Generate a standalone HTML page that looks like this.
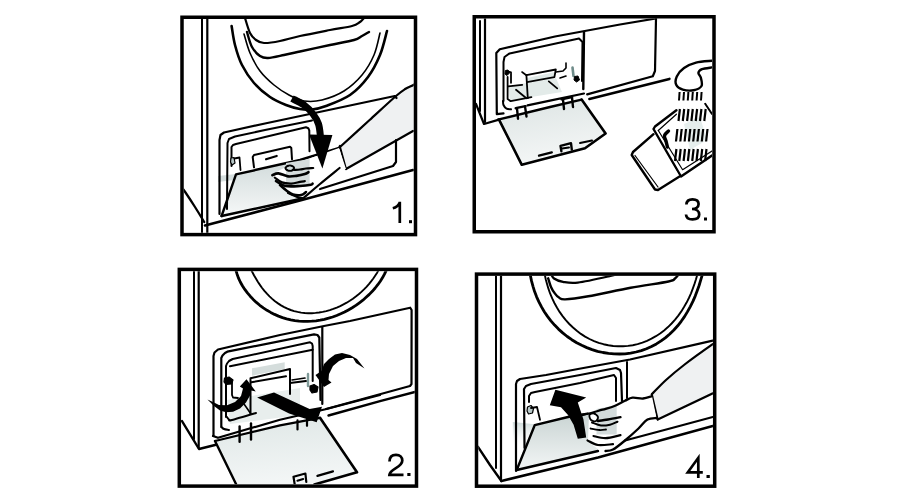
<!DOCTYPE html>
<html><head><meta charset="utf-8">
<style>
html,body{margin:0;padding:0;background:#fff;width:900px;height:500px;overflow:hidden}
svg{display:block}
text{font-family:"Liberation Sans",sans-serif}
</style></head>
<body>
<svg width="900" height="500" viewBox="0 0 900 500">
<defs>
<clipPath id="c1"><rect x="183.75" y="19" width="230" height="213.85"/></clipPath>
<clipPath id="c2"><rect x="181.05" y="271.15" width="233.7" height="213.2"/></clipPath>
<clipPath id="c3"><rect x="476" y="18.5" width="236" height="211.5"/></clipPath>
<clipPath id="c4"><rect x="478.25" y="275.85" width="234.7" height="208.6"/></clipPath>
<linearGradient id="g1" x1="0" y1="0" x2="0" y2="1">
<stop offset="0" stop-color="#cfd9d9"/><stop offset="1" stop-color="#f6f8f8"/></linearGradient>
<linearGradient id="g5" x1="0" y1="0" x2="0" y2="1"><stop offset="0" stop-color="#cfdbda"/><stop offset="1" stop-color="#ffffff" stop-opacity="0"/></linearGradient>
<linearGradient id="g4" x1="0" y1="0" x2="0" y2="1"><stop offset="0" stop-color="#c7d2d1"/><stop offset="1" stop-color="#f3f6f6"/></linearGradient>
<linearGradient id="g2" x1="0" y1="0" x2="0.2" y2="1"><stop offset="0" stop-color="#dfe7e6"/><stop offset="1" stop-color="#f3f6f6"/></linearGradient>
<linearGradient id="g3" x1="0" y1="0" x2="0.3" y2="1"><stop offset="0" stop-color="#dce4e3"/><stop offset="1" stop-color="#f4f6f6"/></linearGradient>
</defs>
<g clip-path="url(#c1)">
<path d="M418.0,80.0 L405.6,88.8 L396.0,96.0 L369.6,120.0 L340.0,146.0 L346.0,169.0 L418.0,127.0 Z" fill="#eff1f2" />
<path d="M236.0,174.4 L300.0,160.0 L310.0,157.6 L322.0,188.0 L300.0,199.0 L221.6,216.0 Z" fill="url(#g1)" />
<path d="M218.0,176.0 L236.0,174.0 L234.0,180.0 L218.0,182.0 Z" fill="#d5dede" />
<path d="M294.0,162.0 L309.0,161.0 L309.0,186.0 L294.0,187.0 Z" fill="#d3dada" />
<path d="M202.0,17.0 L202.0,235.0" fill="none" stroke="#000" stroke-width="2" stroke-linecap="round" stroke-linejoin="round" />
<path d="M207.3,17.0 L207.3,235.0" fill="none" stroke="#000" stroke-width="2.2" stroke-linecap="round" stroke-linejoin="round" />
<path d="M182.5,188.5 C183.0,189.2 183.4,189.4 185.5,192.5 C187.6,195.6 191.9,202.1 195.0,207.0 C198.1,211.9 202.7,219.5 204.2,222.0" fill="none" stroke="#000" stroke-width="2.3" stroke-linecap="round" stroke-linejoin="round" />
<path d="M205.0,225.5 L300.0,200.5 L413.0,170.0" fill="none" stroke="#000" stroke-width="2.6" stroke-linecap="round" stroke-linejoin="round" />
<path d="M245.0,18.0 C245.8,20.5 248.2,29.3 250.0,33.0 C251.8,36.7 253.7,38.3 256.0,40.0 C258.3,41.7 260.0,42.8 264.0,43.0 C268.0,43.2 274.0,42.2 280.0,41.0 C286.0,39.8 291.7,37.8 300.0,36.0 C308.3,34.2 321.3,31.7 330.0,30.0 C338.7,28.3 347.0,27.3 352.0,26.0 C357.0,24.7 358.0,23.3 360.0,22.0 C362.0,20.7 363.3,18.7 364.0,18.0" fill="none" stroke="#000" stroke-width="2.2" stroke-linecap="round" stroke-linejoin="round" />
<path d="M247.0,32.0 C247.8,34.5 249.8,43.0 252.0,47.0 C254.2,51.0 257.3,54.2 260.0,56.0 C262.7,57.8 264.0,58.2 268.0,58.0 C272.0,57.8 278.7,56.1 284.0,55.0 C289.3,53.9 292.3,53.2 300.0,51.5 C307.7,49.8 321.0,46.9 330.0,45.0 C339.0,43.1 348.7,41.5 354.0,40.0 C359.3,38.5 359.5,37.3 362.0,36.0 C364.5,34.7 367.8,32.7 369.0,32.0" fill="none" stroke="#000" stroke-width="2.4" stroke-linecap="round" stroke-linejoin="round" />
<path d="M231.6,26.0 C232.2,29.2 233.3,38.5 235.0,45.0 C236.7,51.5 238.8,58.7 242.0,65.0 C245.2,71.3 249.3,77.7 254.0,83.0 C258.7,88.3 264.7,93.3 270.0,97.0 C275.3,100.7 281.0,103.0 286.0,105.0 C291.0,107.0 295.7,108.2 300.0,109.0 C304.3,109.8 307.7,110.0 312.0,109.5 C316.3,109.0 319.7,108.4 326.0,106.0 C332.3,103.6 343.0,99.8 350.0,95.0 C357.0,90.2 363.0,83.7 368.0,77.0 C373.0,70.3 376.8,62.7 380.0,55.0 C383.2,47.3 385.8,35.0 387.0,31.0" fill="none" stroke="#000" stroke-width="2.6" stroke-linecap="round" stroke-linejoin="round" />
<path d="M244.0,34.0 C245.0,37.2 247.3,46.8 250.0,53.0 C252.7,59.2 256.0,65.7 260.0,71.0 C264.0,76.3 269.2,81.0 274.0,85.0 C278.8,89.0 284.0,92.3 289.0,95.0 C294.0,97.7 298.5,100.2 304.0,101.0 C309.5,101.8 315.3,101.7 322.0,100.0 C328.7,98.3 337.3,95.2 344.0,91.0 C350.7,86.8 357.0,81.0 362.0,75.0 C367.0,69.0 371.0,62.0 374.0,55.0 C377.0,48.0 379.0,36.7 380.0,33.0" fill="none" stroke="#000" stroke-width="1.6" stroke-linecap="round" stroke-linejoin="round" />
<path d="M219.5,214.0 L219.5,140.0 L220.5,135.0 L224.0,132.5 L265.0,123.5 L394.8,96.0 L396.5,98.0" fill="none" stroke="#000" stroke-width="2.2" stroke-linecap="round" stroke-linejoin="round" />
<path d="M227.0,209.0 L227.5,143.0 L229.0,139.0 L235.0,136.5 L265.0,130.0 L312.0,120.5" fill="none" stroke="#000" stroke-width="2" stroke-linecap="round" stroke-linejoin="round" />
<path d="M231.5,166.0 L231.5,147.0 L233.0,145.0 L236.0,144.0 L265.0,137.0 L306.0,127.3 L308.3,128.2 L309.3,130.5 L309.5,151.3" fill="none" stroke="#000" stroke-width="2" stroke-linecap="round" stroke-linejoin="round" />
<path d="M396.0,140.0 L396.0,162.0 L393.0,166.0 L320.0,189.0" fill="none" stroke="#000" stroke-width="2.2" stroke-linecap="round" stroke-linejoin="round" />
<path d="M254.0,167.3 L252.7,157.0 L254.0,155.0 L290.0,146.7 L291.3,148.0 L292.0,159.3" fill="none" stroke="#000" stroke-width="2" stroke-linecap="round" stroke-linejoin="round" />
<path d="M266.0,159.3 L276.7,156.0" fill="none" stroke="#000" stroke-width="2.2" stroke-linecap="round" stroke-linejoin="round" />
<path d="M231.0,158.0 L234.0,157.5 L235.0,163.0 L232.0,165.0 L230.5,162.0 Z" fill="#b8c8c8" stroke="#000" stroke-width="1.2" stroke-linejoin="round" />
<path d="M234.5,158.5 L239.5,157.5 L240.5,170.0" fill="none" stroke="#000" stroke-width="1.8" stroke-linecap="round" stroke-linejoin="round" />
<path d="M221.6,216.0 L236.0,174.4 L300.0,160.0 L318.0,154.4 L339.0,148.0 L340.0,146.0" fill="none" stroke="#000" stroke-width="2.4" stroke-linecap="round" stroke-linejoin="round" />
<path d="M221.6,216.0 L300.0,199.0" fill="none" stroke="#000" stroke-width="2.6" stroke-linecap="round" stroke-linejoin="round" />
<path d="M418.0,80.0 C417.3,80.8 416.1,83.1 414.0,84.6 C411.9,86.1 408.6,86.9 405.6,88.8 C402.6,90.7 402.0,90.8 396.0,96.0 C390.0,101.2 378.9,111.5 369.6,120.0 C360.3,128.5 344.9,142.5 340.0,147.0" fill="none" stroke="#000" stroke-width="2.2" stroke-linecap="round" stroke-linejoin="round" />
<path d="M340.0,147.0 L346.0,169.0" fill="none" stroke="#000" stroke-width="2" stroke-linecap="round" stroke-linejoin="round" />
<path d="M346.0,169.0 L413.0,131.0" fill="none" stroke="#000" stroke-width="2.2" stroke-linecap="round" stroke-linejoin="round" />
<path d="M272.0,175.0 L280.0,170.0 L290.0,165.0 L300.0,162.0 L318.0,155.4 L339.0,148.0 L346.0,169.0 L338.0,171.0 L318.0,189.6 L301.0,197.0 L288.0,192.0 L278.0,183.0 Z" fill="#fff" />
<path d="M286.0,163.0 L309.6,159.0 L309.6,186.0 L286.0,187.0 Z" fill="#d5dcdc" />
<path d="M303.6,198.0 C306.3,195.7 314.0,189.0 320.0,184.0 C326.0,179.0 336.3,170.7 339.6,168.0" fill="none" stroke="#000" stroke-width="2.2" stroke-linecap="round" stroke-linejoin="round" />
<path d="M272.4,175.2 C273.4,174.9 275.8,173.2 278.4,173.4 C281.0,173.6 285.0,176.0 288.0,176.4 C291.0,176.8 293.6,176.2 296.4,175.8 C299.2,175.4 302.8,174.6 304.8,174.0 C306.8,173.4 307.8,172.5 308.4,172.2" fill="none" stroke="#000" stroke-width="2.7" stroke-linecap="round" stroke-linejoin="round" />
<path d="M274.8,177.6 C276.0,178.4 279.2,181.4 282.0,182.4 C284.8,183.4 288.6,183.7 291.6,183.6 C294.6,183.5 297.8,182.2 300.0,181.8 C302.2,181.4 304.0,181.3 304.8,181.2" fill="none" stroke="#000" stroke-width="2.2" stroke-linecap="round" stroke-linejoin="round" />
<path d="M276.0,181.2 C277.6,182.0 281.6,185.2 285.6,186.0 C289.6,186.8 295.8,186.2 300.0,186.0 C304.2,185.8 308.7,185.2 310.8,184.8 C312.9,184.4 312.3,183.8 312.6,183.6" fill="none" stroke="#000" stroke-width="2.6" stroke-linecap="round" stroke-linejoin="round" />
<path d="M280.0,185.0 C281.2,186.0 284.8,189.4 287.0,191.0 C289.2,192.6 290.6,193.8 293.0,194.5 C295.4,195.2 299.0,195.4 301.2,195.0 C303.4,194.6 305.2,192.5 306.0,192.0" fill="none" stroke="#000" stroke-width="2.6" stroke-linecap="round" stroke-linejoin="round" />
<path d="M288.0,193.0 C289.8,193.8 296.3,196.7 298.8,197.5 C301.3,198.3 302.3,197.9 303.0,198.0" fill="none" stroke="#000" stroke-width="2.2" stroke-linecap="round" stroke-linejoin="round" />
<path d="M285.6,167.5 C286.1,166.8 288.6,165.5 290.0,165.5 C291.4,165.5 293.7,166.7 294.0,167.5 C294.3,168.3 293.2,170.1 292.0,170.5 C290.8,170.9 288.1,170.5 287.0,170.0 C285.9,169.5 285.1,168.2 285.6,167.5 Z" fill="none" stroke="#000" stroke-width="2" stroke-linecap="round" stroke-linejoin="round" />
<path d="M287.5,167.5 L290.0,166.5 L292.5,168.0 L291.0,169.5 L288.0,169.5 Z" fill="#cfdada" />
<path d="M294.0,170.0 C295.0,169.9 298.0,169.8 300.0,169.5 C302.0,169.2 303.8,168.8 306.0,168.5 C308.2,168.2 312.0,168.1 313.2,168.0" fill="none" stroke="#000" stroke-width="2.2" stroke-linecap="round" stroke-linejoin="round" />
<path d="M292.0,98.5 C294.0,99.6 300.5,102.4 304.0,105.0 C307.5,107.6 310.6,110.8 313.0,114.0 C315.4,117.2 317.2,120.2 318.5,124.0 C319.8,127.8 320.2,134.8 320.5,137.0" fill="none" stroke="#000" stroke-width="7" stroke-linecap="butt" stroke-linejoin="round" />
<path d="M309.0,134.4 L332.4,135.0 L322.4,168.4 Z" fill="#000" />
</g>
<g clip-path="url(#c3)">
<path d="M508.0,86.0 L556.0,78.0 L562.0,92.0 L510.0,100.5 Z" fill="#e3ebe9" />
<path d="M527.0,78.0 L555.0,72.0 L555.0,77.0 L527.0,83.0 Z" fill="#dfe8e6" />
<path d="M499.0,119.6 L540.0,109.0 L581.6,99.6 L605.6,133.5 L585.0,148.2 L521.8,164.8 Z" fill="url(#g3)" />
<path d="M480.0,21.0 L480.0,111.0" fill="none" stroke="#000" stroke-width="2" stroke-linecap="round" stroke-linejoin="round" />
<path d="M485.0,18.0 L485.0,122.0" fill="none" stroke="#000" stroke-width="2.2" stroke-linecap="round" stroke-linejoin="round" />
<path d="M476.0,104.0 L484.0,124.0 L499.0,119.6" fill="none" stroke="#000" stroke-width="2.2" stroke-linecap="round" stroke-linejoin="round" />
<path d="M503.5,113.3 L496.8,114.2 L496.3,53.0 L499.8,49.2 L555.0,36.5 L620.0,24.5 L656.0,18.5" fill="none" stroke="#000" stroke-width="2.2" stroke-linecap="round" stroke-linejoin="round" />
<path d="M503.5,101.0 L503.5,62.0 L504.5,57.0 L509.6,53.4 L579.0,38.5 L582.5,42.0 L582.0,81.0" fill="none" stroke="#000" stroke-width="2" stroke-linecap="round" stroke-linejoin="round" />
<path d="M503.0,101.0 C503.1,101.7 502.9,103.7 503.5,105.0 C504.1,106.3 505.2,107.9 506.5,108.6 C507.8,109.3 510.2,109.2 511.0,109.3" fill="none" stroke="#000" stroke-width="2" stroke-linecap="round" stroke-linejoin="round" />
<path d="M584.0,32.0 L583.3,89.0" fill="none" stroke="#000" stroke-width="2.4" stroke-linecap="round" stroke-linejoin="round" />
<path d="M656.0,18.5 L655.0,71.0 L652.8,76.2 L587.2,94.4" fill="none" stroke="#000" stroke-width="2.2" stroke-linecap="round" stroke-linejoin="round" />
<path d="M589.4,98.9 L669.4,78.9" fill="none" stroke="#000" stroke-width="2.6" stroke-linecap="round" stroke-linejoin="round" />
<path d="M505.4,70.5 L508.0,70.0 L509.5,73.0 L507.0,75.5 L505.0,74.0 Z" fill="#000" stroke="#000" stroke-width="1" stroke-linejoin="round" />
<path d="M507.0,71.0 L511.0,72.3 L511.0,82.8" fill="none" stroke="#000" stroke-width="1.8" stroke-linecap="round" stroke-linejoin="round" />
<path d="M572.5,67.5 L573.5,76.0" fill="none" stroke="#6f8c8a" stroke-width="2.6" stroke-linecap="round" stroke-linejoin="round" />
<path d="M574.5,76.5 L578.0,76.0 L579.5,80.0 L576.5,82.0 L574.0,80.0 Z" fill="#000" stroke="#000" stroke-width="1" stroke-linejoin="round" />
<path d="M526.4,75.1 L555.8,69.5 L554.4,77.2 L527.0,82.1" fill="none" stroke="#000" stroke-width="1.8" stroke-linecap="round" stroke-linejoin="round" />
<path d="M526.4,75.1 L527.8,98.2" fill="none" stroke="#000" stroke-width="1.8" stroke-linecap="round" stroke-linejoin="round" />
<path d="M516.0,89.8 L526.4,98.2" fill="none" stroke="#000" stroke-width="1.8" stroke-linecap="round" stroke-linejoin="round" />
<path d="M548.8,81.4 L557.2,88.4" fill="none" stroke="#000" stroke-width="1.8" stroke-linecap="round" stroke-linejoin="round" />
<path d="M508.2,86.3 L522.2,84.9" fill="none" stroke="#000" stroke-width="1.8" stroke-linecap="round" stroke-linejoin="round" />
<path d="M522.0,72.0 L526.0,75.0" fill="none" stroke="#000" stroke-width="1.6" stroke-linecap="round" stroke-linejoin="round" />
<path d="M507.6,77.0 L507.6,99.0 L510.7,101.2 L531.4,97.1" fill="none" stroke="#000" stroke-width="1.8" stroke-linecap="round" stroke-linejoin="round" />
<path d="M556.0,72.0 L563.0,71.0 L566.0,68.0 L566.0,63.0" fill="none" stroke="#000" stroke-width="1.6" stroke-linecap="round" stroke-linejoin="round" />
<path d="M560.0,78.0 L566.0,76.0" fill="none" stroke="#000" stroke-width="1.6" stroke-linecap="round" stroke-linejoin="round" />
<path d="M527.5,105.4 L550.0,100.7 L584.0,93.5" fill="none" stroke="#000" stroke-width="2.2" stroke-linecap="round" stroke-linejoin="round" />
<path d="M498.0,119.6 L550.0,107.0 L581.6,99.6" fill="none" stroke="#000" stroke-width="2.4" stroke-linecap="round" stroke-linejoin="round" />
<path d="M515.7,108.2 L525.5,106.1" fill="none" stroke="#000" stroke-width="2.4" stroke-linecap="round" stroke-linejoin="round" />
<path d="M517.0,108.5 L518.0,118.7" fill="none" stroke="#000" stroke-width="2.4" stroke-linecap="round" stroke-linejoin="round" />
<path d="M525.0,106.4 L526.5,116.5" fill="none" stroke="#000" stroke-width="2.4" stroke-linecap="round" stroke-linejoin="round" />
<path d="M561.5,99.3 L572.0,97.0" fill="none" stroke="#000" stroke-width="2.4" stroke-linecap="round" stroke-linejoin="round" />
<path d="M563.0,99.5 L564.0,109.0" fill="none" stroke="#000" stroke-width="2.4" stroke-linecap="round" stroke-linejoin="round" />
<path d="M572.0,97.3 L573.0,107.0" fill="none" stroke="#000" stroke-width="2.4" stroke-linecap="round" stroke-linejoin="round" />
<path d="M499.0,119.6 L521.8,164.8 L585.0,148.2 L605.6,133.5 L581.6,99.6" fill="none" stroke="#000" stroke-width="2.6" stroke-linecap="round" stroke-linejoin="round" />
<path d="M539.0,155.6 L551.8,152.4" fill="none" stroke="#000" stroke-width="2.3" stroke-linecap="round" stroke-linejoin="round" />
<path d="M561.4,151.2 L560.5,145.8 L571.0,143.2 L571.8,149.6" fill="none" stroke="#000" stroke-width="2.4" stroke-linecap="round" stroke-linejoin="round" />
<path d="M562.0,148.5 L569.0,147.5" fill="none" stroke="#000" stroke-width="2" stroke-linecap="round" stroke-linejoin="round" />
<path d="M580.0,143.0 L592.0,140.5" fill="none" stroke="#000" stroke-width="2" stroke-linecap="round" stroke-linejoin="round" />
<path d="M712.0,60.8 C709.3,61.1 700.7,61.4 696.0,62.6 C691.3,63.8 687.2,65.7 684.0,68.0 C680.8,70.3 678.1,73.6 676.8,76.4 C675.5,79.2 675.2,82.6 676.2,84.8 C677.2,87.0 679.9,88.7 682.8,89.6 C685.7,90.5 690.5,90.8 693.6,90.2 C696.7,89.6 700.3,88.1 701.5,86.0 C702.7,83.9 701.3,79.8 700.8,77.6 C700.3,75.4 698.2,74.2 698.4,72.8 C698.6,71.4 699.7,70.1 702.0,69.2 C704.3,68.3 710.3,67.7 712.0,67.4" fill="none" stroke="#000" stroke-width="2.4" stroke-linecap="round" stroke-linejoin="round" />
<path d="M684.0,124.0 L700.0,117.0 L707.0,140.0 L690.0,150.0 Z" fill="#e6eeed" />
<path d="M679.6,92.0 L679.0,100.5" fill="none" stroke="#000" stroke-width="2" stroke-linecap="butt" stroke-linejoin="round" />
<path d="M684.0,92.0 L683.4,100.5" fill="none" stroke="#000" stroke-width="2" stroke-linecap="butt" stroke-linejoin="round" />
<path d="M688.4,92.0 L687.8,100.5" fill="none" stroke="#000" stroke-width="2" stroke-linecap="butt" stroke-linejoin="round" />
<path d="M692.8,92.0 L692.2,100.5" fill="none" stroke="#000" stroke-width="2" stroke-linecap="butt" stroke-linejoin="round" />
<path d="M697.2,92.0 L696.6,100.5" fill="none" stroke="#000" stroke-width="2" stroke-linecap="butt" stroke-linejoin="round" />
<path d="M701.6,92.0 L701.0,100.5" fill="none" stroke="#000" stroke-width="2" stroke-linecap="butt" stroke-linejoin="round" />
<path d="M679.9,109.0 L678.5,121.0" fill="none" stroke="#000" stroke-width="2.2" stroke-linecap="butt" stroke-linejoin="round" />
<path d="M684.2,109.0 L682.8,121.0" fill="none" stroke="#000" stroke-width="2.2" stroke-linecap="butt" stroke-linejoin="round" />
<path d="M688.5,109.0 L687.1,121.0" fill="none" stroke="#000" stroke-width="2.2" stroke-linecap="butt" stroke-linejoin="round" />
<path d="M692.8,109.0 L691.4,121.0" fill="none" stroke="#000" stroke-width="2.2" stroke-linecap="butt" stroke-linejoin="round" />
<path d="M697.1,109.0 L695.7,121.0" fill="none" stroke="#000" stroke-width="2.2" stroke-linecap="butt" stroke-linejoin="round" />
<path d="M701.4,109.0 L700.0,121.0" fill="none" stroke="#000" stroke-width="2.2" stroke-linecap="butt" stroke-linejoin="round" />
<path d="M705.7,109.0 L704.3,121.0" fill="none" stroke="#000" stroke-width="2.2" stroke-linecap="butt" stroke-linejoin="round" />
<path d="M677.4,129.0 L676.0,141.5" fill="none" stroke="#000" stroke-width="2.2" stroke-linecap="butt" stroke-linejoin="round" />
<path d="M681.7,129.0 L680.3,141.5" fill="none" stroke="#000" stroke-width="2.2" stroke-linecap="butt" stroke-linejoin="round" />
<path d="M686.0,129.0 L684.6,141.5" fill="none" stroke="#000" stroke-width="2.2" stroke-linecap="butt" stroke-linejoin="round" />
<path d="M690.3,129.0 L688.9,141.5" fill="none" stroke="#000" stroke-width="2.2" stroke-linecap="butt" stroke-linejoin="round" />
<path d="M694.6,129.0 L693.2,141.5" fill="none" stroke="#000" stroke-width="2.2" stroke-linecap="butt" stroke-linejoin="round" />
<path d="M698.9,129.0 L697.5,141.5" fill="none" stroke="#000" stroke-width="2.2" stroke-linecap="butt" stroke-linejoin="round" />
<path d="M703.2,129.0 L701.8,141.5" fill="none" stroke="#000" stroke-width="2.2" stroke-linecap="butt" stroke-linejoin="round" />
<path d="M707.5,129.0 L706.1,141.5" fill="none" stroke="#000" stroke-width="2.2" stroke-linecap="butt" stroke-linejoin="round" />
<path d="M676.4,149.0 L675.0,161.0" fill="none" stroke="#000" stroke-width="2.2" stroke-linecap="butt" stroke-linejoin="round" />
<path d="M680.7,149.0 L679.3,161.0" fill="none" stroke="#000" stroke-width="2.2" stroke-linecap="butt" stroke-linejoin="round" />
<path d="M685.0,149.0 L683.6,161.0" fill="none" stroke="#000" stroke-width="2.2" stroke-linecap="butt" stroke-linejoin="round" />
<path d="M689.3,149.0 L687.9,161.0" fill="none" stroke="#000" stroke-width="2.2" stroke-linecap="butt" stroke-linejoin="round" />
<path d="M693.6,149.0 L692.2,161.0" fill="none" stroke="#000" stroke-width="2.2" stroke-linecap="butt" stroke-linejoin="round" />
<path d="M697.9,149.0 L696.5,161.0" fill="none" stroke="#000" stroke-width="2.2" stroke-linecap="butt" stroke-linejoin="round" />
<path d="M702.2,149.0 L700.8,161.0" fill="none" stroke="#000" stroke-width="2.2" stroke-linecap="butt" stroke-linejoin="round" />
<path d="M706.5,149.0 L705.1,161.0" fill="none" stroke="#000" stroke-width="2.2" stroke-linecap="butt" stroke-linejoin="round" />
<path d="M676.4,110.2 L655.0,126.5 L653.5,129.0 L681.0,176.5 L720.0,150.0" fill="none" stroke="#000" stroke-width="2.4" stroke-linecap="round" stroke-linejoin="round" />
<path d="M705.2,103.8 L712.0,114.0" fill="none" stroke="#000" stroke-width="2" stroke-linecap="round" stroke-linejoin="round" />
<path d="M658.3,130.5 L676.4,114.2" fill="none" stroke="#000" stroke-width="1.2" stroke-linecap="round" stroke-linejoin="round" />
<path d="M658.3,130.5 L682.6,169.7 L712.0,151.0" fill="none" stroke="#000" stroke-width="1.2" stroke-linecap="round" stroke-linejoin="round" />
<path d="M631.7,153.0 L653.5,134.2 L679.5,176.5 L656.5,190.5 Z" fill="#fff" />
<path d="M653.5,134.2 L633.0,152.0 L631.7,155.0 L655.0,189.5 L658.0,190.0 L679.5,176.5" fill="none" stroke="#000" stroke-width="2.4" stroke-linecap="round" stroke-linejoin="round" />
<path d="M635.0,155.5 L658.0,187.0" fill="none" stroke="#000" stroke-width="1.2" stroke-linecap="round" stroke-linejoin="round" />
<path d="M668.5,131.0 C667.8,131.8 664.9,133.8 664.5,135.5 C664.1,137.2 665.5,139.1 666.0,141.0 C666.5,142.9 667.2,146.0 667.5,147.0" fill="none" stroke="#000" stroke-width="3.4" stroke-linecap="round" stroke-linejoin="round" />
</g>
<g clip-path="url(#c2)">
<path d="M215.0,441.0 L280.0,425.4 L320.0,417.8 L357.0,472.0 L316.0,482.5 L300.0,486.0 L236.0,486.0 Z" fill="url(#g2)" />
<path d="M252.0,368.3 L284.7,362.3 L284.7,369.0 L252.0,375.7 Z" fill="#d5dddc" />
<path d="M227.0,400.0 L300.0,388.0 L300.0,415.0 L230.0,424.0 Z" fill="#e8eeed" />
<path d="M194.0,271.0 L194.0,439.0" fill="none" stroke="#000" stroke-width="2" stroke-linecap="round" stroke-linejoin="round" />
<path d="M198.7,271.0 L198.7,448.0" fill="none" stroke="#000" stroke-width="2.2" stroke-linecap="round" stroke-linejoin="round" />
<path d="M182.0,421.0 L199.0,449.0 L215.0,445.0" fill="none" stroke="#000" stroke-width="2.4" stroke-linecap="round" stroke-linejoin="round" />
<path d="M235.2,266.2 L235.9,270.2 L237.1,274.2 L238.5,278.1 L240.3,282.0 L242.4,285.7 L244.8,289.4 L247.4,292.9 L250.2,296.2 L253.2,299.4 L256.4,302.4 L259.8,305.3 L263.3,307.9 L267.0,310.3 L270.7,312.4 L274.6,314.4 L278.5,316.1 L282.5,317.6 L286.6,318.8 L290.8,319.8 L294.9,320.6 L299.1,321.1 L303.4,321.4 L307.6,321.4 L311.8,321.2 L316.0,320.8 L320.2,320.2 L324.4,319.3 L328.6,318.2 L332.6,317.0 L336.7,315.5 L340.7,313.8 L344.6,312.0 L348.4,309.9 L352.2,307.7 L355.9,305.4 L359.4,302.8 L362.9,300.2 L366.1,297.3 L369.3,294.4 L372.3,291.3 L375.2,288.0 L377.8,284.7 L380.3,281.2 L382.6,277.6 L384.6,273.9 L386.4,270.0 L387.9,266.1" fill="none" stroke="#000" stroke-width="2.8" stroke-linecap="round" stroke-linejoin="round" />
<path d="M249.3,266.3 L250.8,269.3 L252.4,272.3 L254.1,275.5 L255.9,278.6 L257.8,281.8 L259.9,284.9 L262.1,288.0 L264.4,290.9 L266.9,293.7 L269.5,296.4 L272.2,298.9 L275.0,301.3 L278.0,303.4 L281.0,305.4 L284.2,307.1 L287.4,308.7 L290.7,310.0 L294.1,311.1 L297.6,311.9 L301.1,312.6 L304.7,313.0 L308.2,313.2 L311.9,313.2 L315.5,312.9 L319.1,312.5 L322.7,311.9 L326.3,311.1 L329.8,310.1 L333.3,308.9 L336.8,307.6 L340.2,306.1 L343.5,304.4 L346.7,302.7 L349.8,300.8 L352.9,298.7 L355.8,296.6 L358.7,294.3 L361.4,291.9 L364.0,289.4 L366.5,286.8 L368.9,284.1 L371.1,281.4 L373.3,278.5 L375.3,275.5 L377.3,272.4 L379.1,269.2 L380.8,265.8" fill="none" stroke="#000" stroke-width="1.9" stroke-linecap="round" stroke-linejoin="round" />
<path d="M213.5,436.0 L213.5,356.0 L214.5,352.5 L218.0,349.5 L280.0,335.0 L324.0,326.0 L350.0,321.0 L410.2,307.7 L411.6,310.0 L411.5,384.0 L410.0,386.0 L326.0,409.0" fill="none" stroke="#000" stroke-width="2.2" stroke-linecap="round" stroke-linejoin="round" />
<path d="M322.3,327.0 L322.3,404.0" fill="none" stroke="#000" stroke-width="2.2" stroke-linecap="round" stroke-linejoin="round" />
<path d="M221.3,427.0 L221.3,358.0 L222.5,355.5 L225.0,353.0 L227.3,351.7 L314.0,334.3 L317.5,335.0 L319.3,337.5 L320.5,400.0" fill="none" stroke="#000" stroke-width="2.2" stroke-linecap="round" stroke-linejoin="round" />
<path d="M221.5,427.0 C221.9,427.3 222.8,428.5 224.0,429.0 C225.2,429.5 228.2,429.8 229.0,430.0" fill="none" stroke="#000" stroke-width="2" stroke-linecap="round" stroke-linejoin="round" />
<path d="M226.0,417.0 L226.0,366.0 L227.0,363.5 L229.0,361.0 L232.7,359.0 L310.0,342.3 L312.0,343.5 L312.7,346.0 L312.7,381.0" fill="none" stroke="#000" stroke-width="2" stroke-linecap="round" stroke-linejoin="round" />
<path d="M230.0,366.3 L312.7,349.7" fill="none" stroke="#000" stroke-width="2" stroke-linecap="round" stroke-linejoin="round" />
<path d="M227.0,417.0 C227.3,417.4 228.2,419.0 229.0,419.5 C229.8,420.0 227.5,421.1 232.0,420.0 C236.5,418.9 252.0,414.2 256.0,413.0" fill="none" stroke="#000" stroke-width="2" stroke-linecap="round" stroke-linejoin="round" />
<path d="M250.5,414.0 L250.5,378.3 L290.0,369.0 L290.0,394.0" fill="none" stroke="#000" stroke-width="2" stroke-linecap="round" stroke-linejoin="round" />
<path d="M251.3,382.3 L286.0,376.3" fill="none" stroke="#000" stroke-width="2" stroke-linecap="round" stroke-linejoin="round" />
<path d="M292.0,380.0 L305.0,378.0" fill="none" stroke="#000" stroke-width="1.6" stroke-linecap="round" stroke-linejoin="round" />
<path d="M232.0,382.0 L232.0,395.0 L233.0,397.5 L238.0,398.0" fill="none" stroke="#000" stroke-width="1.8" stroke-linecap="round" stroke-linejoin="round" />
<path d="M224.5,378.0 L229.0,377.0 L233.0,380.0 L231.5,384.0 L226.0,384.5 L224.0,382.0 Z" fill="#000" stroke="#000" stroke-width="1.2" stroke-linejoin="round" />
<path d="M308.0,374.0 L308.0,386.0" fill="none" stroke="#7f9a98" stroke-width="2.4" stroke-linecap="round" stroke-linejoin="round" />
<path d="M310.0,386.0 L314.0,384.5 L318.0,387.0 L317.0,392.0 L312.0,393.0 L310.0,390.0 Z" fill="#000" stroke="#000" stroke-width="1.2" stroke-linejoin="round" />
<path d="M290.0,383.0 L306.0,381.0" fill="none" stroke="#000" stroke-width="1.8" stroke-linecap="round" stroke-linejoin="round" />
<path d="M251.0,414.0 L244.0,404.0" fill="none" stroke="#000" stroke-width="1.6" stroke-linecap="round" stroke-linejoin="round" />
<path d="M213.0,436.0 L218.0,437.8 L280.0,419.7 L325.5,409.3 L380.0,395.0" fill="none" stroke="#000" stroke-width="2.2" stroke-linecap="round" stroke-linejoin="round" />
<path d="M215.0,441.0 L280.0,425.4 L320.0,417.8" fill="none" stroke="#000" stroke-width="2.2" stroke-linecap="round" stroke-linejoin="round" />
<path d="M328.5,415.5 L380.0,401.2 L415.0,392.0" fill="none" stroke="#000" stroke-width="2.4" stroke-linecap="round" stroke-linejoin="round" />
<path d="M239.6,426.5 L239.6,441.8" fill="none" stroke="#000" stroke-width="2.4" stroke-linecap="round" stroke-linejoin="round" />
<path d="M251.0,423.5 L251.0,439.5" fill="none" stroke="#000" stroke-width="2.4" stroke-linecap="round" stroke-linejoin="round" />
<path d="M297.5,420.4 L297.5,429.4" fill="none" stroke="#000" stroke-width="2.2" stroke-linecap="round" stroke-linejoin="round" />
<path d="M307.0,419.5 L307.0,425.8" fill="none" stroke="#000" stroke-width="2.2" stroke-linecap="round" stroke-linejoin="round" />
<path d="M215.0,441.0 L236.0,484.0" fill="none" stroke="#000" stroke-width="2.4" stroke-linecap="round" stroke-linejoin="round" />
<path d="M320.0,417.8 L357.0,472.3 L314.3,484.5" fill="none" stroke="#000" stroke-width="2.6" stroke-linecap="round" stroke-linejoin="round" />
<path d="M317.4,475.9 L333.0,471.4" fill="none" stroke="#000" stroke-width="2.2" stroke-linecap="round" stroke-linejoin="round" />
<path d="M294.8,485.0 L293.5,476.8 L305.4,473.5 L306.3,482.0" fill="none" stroke="#000" stroke-width="2.2" stroke-linecap="round" stroke-linejoin="round" />
<path d="M297.4,480.8 L303.2,479.0" fill="none" stroke="#000" stroke-width="2" stroke-linecap="round" stroke-linejoin="round" />
<path d="M257.1,397.4 L274.0,392.6 L309.6,409.0 L322.0,406.8 L316.7,422.3 L289.1,413.4 Z" fill="#000" />
<path d="M207.5,399.5 L214.0,406.0 L220.0,410.5 L226.0,412.2 L233.0,411.8 L240.0,408.5 L246.0,402.5 L250.0,395.5 L251.2,390.5 L255.8,391.5 L246.5,379.3 L239.8,386.5 L243.0,388.5 L241.0,396.0 L235.0,402.0 L227.0,405.2 L219.0,405.0 L214.0,402.5 Z" fill="#000" />
<path d="M364.5,368.5 L357.0,359.0 L350.0,355.0 L342.0,353.0 L335.0,354.5 L329.0,359.0 L324.0,364.0 L321.5,371.0 L315.5,375.0 L324.0,387.0 L331.5,382.5 L328.5,380.0 L329.0,374.0 L333.0,366.0 L339.0,361.0 L346.0,358.0 L353.0,358.0 L356.0,363.0 Z" fill="#000" />
</g>
<g clip-path="url(#c4)">
<path d="M720.0,340.0 L712.7,344.2 L684.0,365.0 L651.8,394.3 L657.7,419.6 L720.0,390.0 Z" fill="#eff1f2" />
<path d="M534.7,425.2 L568.0,417.0 L587.6,413.6 L600.0,411.0 L600.0,450.0 L516.7,470.0 Z" fill="url(#g4)" />
<path d="M512.8,422.0 L534.9,424.3 L526.0,447.0 L512.8,447.0 Z" fill="url(#g5)" />
<path d="M496.0,276.0 L496.0,468.0" fill="none" stroke="#000" stroke-width="2" stroke-linecap="round" stroke-linejoin="round" />
<path d="M501.0,276.0 L501.0,479.0" fill="none" stroke="#000" stroke-width="2.2" stroke-linecap="round" stroke-linejoin="round" />
<path d="M478.0,446.8 L490.0,465.0 L501.4,481.0" fill="none" stroke="#000" stroke-width="2.4" stroke-linecap="round" stroke-linejoin="round" />
<path d="M501.4,481.0 L598.0,457.6 L712.8,426.0" fill="none" stroke="#000" stroke-width="2.6" stroke-linecap="round" stroke-linejoin="round" />
<path d="M550.0,272.0 C550.7,273.1 551.8,276.9 554.0,278.5 C556.2,280.1 559.0,281.1 563.0,281.8 C567.0,282.5 570.1,283.5 577.8,282.6 C585.5,281.7 601.5,278.0 609.4,276.2 C617.3,274.4 622.4,272.7 625.0,272.0" fill="none" stroke="#000" stroke-width="2.2" stroke-linecap="round" stroke-linejoin="round" />
<path d="M548.2,278.3 C548.7,279.8 549.9,284.5 551.0,287.0 C552.1,289.5 553.3,291.4 554.6,293.1 C555.9,294.9 557.2,296.4 559.0,297.5 C560.8,298.6 560.2,299.6 565.1,299.4 C570.0,299.2 577.4,298.2 588.3,296.3 C599.2,294.4 617.2,290.3 630.6,287.8 C644.0,285.3 661.1,283.1 668.5,281.5 C675.9,279.9 673.2,279.8 675.0,278.5 C676.8,277.2 678.3,274.8 679.0,274.0" fill="none" stroke="#000" stroke-width="2.4" stroke-linecap="round" stroke-linejoin="round" />
<path d="M529.4,270.1 L530.4,275.5 L531.5,280.9 L533.0,286.3 L534.6,291.6 L536.6,296.8 L538.9,301.9 L541.5,306.9 L544.3,311.7 L547.5,316.4 L550.9,320.8 L554.6,325.1 L558.5,329.1 L562.7,332.9 L567.2,336.5 L571.8,339.7 L576.7,342.7 L581.7,345.3 L586.8,347.6 L592.1,349.6 L597.5,351.3 L603.0,352.5 L608.5,353.4 L614.1,353.9 L619.6,354.0 L625.1,353.8 L630.6,353.1 L636.0,352.0 L641.3,350.6 L646.5,348.7 L651.5,346.5 L656.4,343.9 L661.1,340.9 L665.6,337.6 L669.8,334.0 L673.9,330.0 L677.7,325.8 L681.2,321.3 L684.5,316.6 L687.5,311.6 L690.3,306.6 L692.9,301.4 L695.2,296.1 L697.2,290.8 L699.1,285.5 L700.7,280.2 L702.2,275.2 L703.5,270.3" fill="none" stroke="#000" stroke-width="2.8" stroke-linecap="round" stroke-linejoin="round" />
<path d="M544.0,270.3 L544.8,274.8 L545.8,279.5 L547.1,284.2 L548.5,288.9 L550.2,293.7 L552.2,298.4 L554.4,303.0 L556.9,307.5 L559.6,311.9 L562.6,316.1 L565.8,320.2 L569.3,324.0 L573.0,327.5 L576.8,330.8 L580.9,333.9 L585.1,336.6 L589.5,339.0 L594.1,341.1 L598.7,342.8 L603.5,344.2 L608.3,345.3 L613.2,346.0 L618.1,346.3 L623.0,346.3 L628.0,345.9 L632.8,345.2 L637.6,344.1 L642.4,342.6 L647.0,340.8 L651.5,338.7 L655.9,336.2 L660.1,333.5 L664.1,330.4 L668.0,327.1 L671.6,323.5 L675.1,319.7 L678.3,315.6 L681.3,311.4 L684.0,307.1 L686.6,302.6 L688.9,298.0 L691.0,293.3 L692.8,288.6 L694.5,283.9 L696.0,279.3 L697.3,274.7 L698.4,270.3" fill="none" stroke="#000" stroke-width="1.9" stroke-linecap="round" stroke-linejoin="round" />
<path d="M516.0,471.0 L516.0,384.0 L517.0,381.0 L520.0,379.0 L546.0,375.0 L578.0,369.0 L630.0,359.5 L712.7,340.6" fill="none" stroke="#000" stroke-width="2.2" stroke-linecap="round" stroke-linejoin="round" />
<path d="M524.5,448.0 L524.0,389.0 L526.0,386.0 L531.0,384.0 L580.0,375.0 L616.0,368.0 L620.0,370.0 L621.0,373.0 L622.0,401.0" fill="none" stroke="#000" stroke-width="2.2" stroke-linecap="round" stroke-linejoin="round" />
<path d="M529.0,402.0 L529.0,396.0 L531.0,393.0 L535.0,392.0 L580.0,383.0 L614.0,375.0 L616.0,378.0 L616.0,401.0" fill="none" stroke="#000" stroke-width="2" stroke-linecap="round" stroke-linejoin="round" />
<path d="M627.0,362.0 L627.0,398.0" fill="none" stroke="#000" stroke-width="2" stroke-linecap="round" stroke-linejoin="round" />
<path d="M527.5,407.0 L531.0,405.5 L533.5,408.5 L532.5,413.0 L528.5,414.0 L527.0,411.0 Z" fill="#b8c8c8" stroke="#000" stroke-width="1.2" stroke-linejoin="round" />
<path d="M531.0,408.0 L537.0,407.0 L540.0,419.8" fill="none" stroke="#000" stroke-width="1.8" stroke-linecap="round" stroke-linejoin="round" />
<path d="M516.7,470.0 L534.7,425.2 L568.0,417.0 L587.6,413.6" fill="none" stroke="#000" stroke-width="2.4" stroke-linecap="round" stroke-linejoin="round" />
<path d="M516.7,470.0 L598.0,451.0" fill="none" stroke="#000" stroke-width="2.4" stroke-linecap="round" stroke-linejoin="round" />
<path d="M720.0,340.0 C718.8,340.7 718.7,340.0 712.7,344.2 C706.7,348.4 691.8,359.0 684.0,365.0 C676.2,371.0 671.4,375.1 666.0,380.0 C660.6,384.9 654.2,391.9 651.8,394.3" fill="none" stroke="#000" stroke-width="2.2" stroke-linecap="round" stroke-linejoin="round" />
<path d="M651.8,394.3 L657.7,419.6" fill="none" stroke="#000" stroke-width="2" stroke-linecap="round" stroke-linejoin="round" />
<path d="M657.7,419.6 L720.0,390.0" fill="none" stroke="#000" stroke-width="2.2" stroke-linecap="round" stroke-linejoin="round" />
<path d="M652.0,396.2 L656.5,418.0 L647.5,419.5 L638.5,428.5 L625.0,440.5 L613.0,449.5 L600.0,451.0 L588.0,441.0 L589.0,413.5 L602.5,409.7 L614.5,406.0 L625.0,400.7 Z" fill="#fff" />
<path d="M596.5,409.0 L616.7,405.0 L616.7,434.5 L596.5,434.5 Z" fill="#d3dbdb" />
<path d="M625.0,440.5 L670.0,428.5 L712.8,417.0" fill="none" stroke="#000" stroke-width="2.2" stroke-linecap="round" stroke-linejoin="round" />
<path d="M652.0,396.2 C650.5,396.6 646.2,398.2 643.0,398.5 C639.8,398.8 635.5,397.3 632.5,397.7 C629.5,398.1 628.0,399.3 625.0,400.7 C622.0,402.1 618.2,404.5 614.5,406.0 C610.8,407.5 606.8,408.4 602.5,409.7 C598.2,410.9 592.4,412.6 589.0,413.5 C585.6,414.4 583.2,414.8 582.0,415.0" fill="none" stroke="#000" stroke-width="2.3" stroke-linecap="round" stroke-linejoin="round" />
<path d="M656.5,418.0 C655.0,418.2 650.5,417.8 647.5,419.5 C644.5,421.2 642.2,425.0 638.5,428.5 C634.8,432.0 629.2,437.0 625.0,440.5 C620.8,444.0 616.2,447.8 613.0,449.5 C609.8,451.2 606.8,450.8 605.5,451.0" fill="none" stroke="#000" stroke-width="2.3" stroke-linecap="round" stroke-linejoin="round" />
<path d="M598.0,421.0 C599.7,420.8 604.2,420.1 608.0,419.5 C611.8,418.9 618.4,417.6 620.5,417.2" fill="none" stroke="#000" stroke-width="2.3" stroke-linecap="round" stroke-linejoin="round" />
<path d="M589.5,415.0 C590.0,413.9 592.6,413.2 594.0,413.5 C595.4,413.8 597.7,415.8 598.0,417.0 C598.3,418.2 597.2,420.5 596.0,421.0 C594.8,421.5 592.1,421.0 591.0,420.0 C589.9,419.0 589.0,416.1 589.5,415.0 Z" fill="none" stroke="#000" stroke-width="1.8" stroke-linecap="round" stroke-linejoin="round" />
<path d="M592.0,422.5 C593.5,423.0 598.0,425.1 601.0,425.5 C604.0,425.9 607.2,425.3 610.0,424.7 C612.8,424.1 616.2,422.2 617.5,421.7" fill="none" stroke="#000" stroke-width="2" stroke-linecap="round" stroke-linejoin="round" />
<path d="M590.5,428.5 C592.0,428.8 596.9,429.8 599.5,430.0 C602.1,430.2 604.9,429.6 606.0,429.5" fill="none" stroke="#000" stroke-width="1.8" stroke-linecap="round" stroke-linejoin="round" />
<path d="M593.5,436.0 C595.5,436.4 601.0,438.3 605.5,438.2 C610.0,438.1 618.0,435.7 620.5,435.2" fill="none" stroke="#000" stroke-width="2.2" stroke-linecap="round" stroke-linejoin="round" />
<path d="M587.5,440.5 C589.2,441.2 593.8,444.4 598.0,445.0 C602.2,445.6 610.5,444.3 613.0,444.2" fill="none" stroke="#000" stroke-width="2.2" stroke-linecap="round" stroke-linejoin="round" />
<path d="M555.4,389.8 L549.8,405.2 L561.0,407.3 L568.0,415.0 L573.6,424.8 L577.8,438.8 L586.2,437.4 L583.4,419.2 L577.8,402.4 L586.2,397.5 Z" fill="#000" />
</g>
<g fill="none" stroke="#000" stroke-width="3.5" stroke-linejoin="miter">
<rect x="182" y="17.25" width="233.5" height="217.35"/>
<rect x="474.25" y="16.75" width="239.75" height="215"/>
<rect x="179.3" y="269.4" width="237.2" height="216.7"/>
<rect x="476.5" y="274.1" width="238.2" height="212.1"/>
</g>
<g fill="none" stroke="#000" stroke-width="2.7" stroke-linecap="butt" stroke-linejoin="miter">
<path d="M399.8,201.8 L399.8,223 M399.8,202.5 C398.5,205.5 396,207.5 392.8,208.3"/>
<path d="M686.4,204.5 C686.6,200.5 689,199.3 692.5,199.3 C696.5,199.3 698.6,201.3 698.6,204 C698.6,207 696,209 692,209 C696.5,209 699.2,211.5 699.2,214.5 C699.2,218.5 696.5,219.4 692.5,219.4 C688.5,219.4 686.2,217.8 686,214.5"/>
<path d="M389.5,461.5 C389.5,456.5 392.5,454.8 396,454.8 C400,454.8 402.3,457.3 402.3,460.5 C402.3,464 399.5,466 395.5,468.3 C391.5,470.7 389.6,472.5 389.4,474.8 L403.5,474.8"/>
<path d="M698.3,478 L698.3,457.8 L687.8,472.3 L702.8,472.3"/>
</g>
<g fill="#000">
<rect x="409" y="220.2" width="3" height="3"/>
<rect x="704" y="217.5" width="3" height="3"/>
<rect x="407.3" y="473" width="3.2" height="3"/>
<rect x="706.5" y="475" width="3.3" height="3"/>
</g>
</svg>
</body></html>
